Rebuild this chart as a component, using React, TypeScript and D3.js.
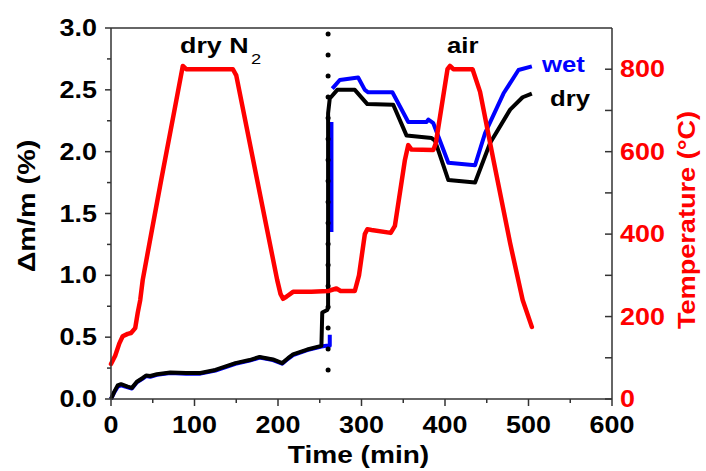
import React from 'react';
import * as d3 from 'd3';

const width = 706;
const height = 471;
const margin = { top: 28, right: 94, bottom: 72, left: 111 };

// temperature programme (red, right axis)
const tempTime = [0, 5, 10, 14, 20, 24, 29, 32, 35, 38, 49, 60, 75, 86, 90, 146, 150, 187, 199, 203, 206, 210, 218, 240, 260, 270, 275, 292, 297, 304, 307, 312, 335, 340, 352, 356, 360, 386, 389, 403, 406, 410, 433, 442, 458, 478, 493, 504];
const tempC = [85, 105, 135, 152, 158, 160, 172, 209, 240, 289, 410, 530, 690, 808, 800, 800, 785, 410, 289, 255, 243, 248, 260, 260, 262, 268, 262, 262, 300, 400, 412, 410, 403, 420, 580, 616, 605, 604, 620, 800, 808, 800, 800, 745, 580, 378, 240, 175];

// dry run (black)
const dryTime = [0, 4, 8, 12, 20, 25, 31, 38, 42, 47, 55, 71, 90, 107, 125, 149, 166, 178, 194, 205, 212, 218, 235, 252, 253, 259, 260, 260, 262, 271, 292, 307, 338, 354, 384, 388, 404, 436, 454, 478, 493, 504];
const dryMass = [0, 0.06, 0.11, 0.12, 0.1, 0.09, 0.14, 0.17, 0.19, 0.186, 0.2, 0.215, 0.21, 0.21, 0.235, 0.29, 0.315, 0.34, 0.32, 0.29, 0.33, 0.36, 0.4, 0.43, 0.7, 0.72, 0.74, 2.31, 2.43, 2.5, 2.5, 2.385, 2.38, 2.13, 2.11, 2.09, 1.77, 1.75, 2.07, 2.34, 2.44, 2.47];

// wet run (blue), NaN = gap in the record
const wetTime = [0, 4, 8, 12, 20, 25, 31, 38, 42, 47, 55, 71, 90, 107, 125, 149, 166, 178, 194, 205, 212, 218, 235, 252, 258, 262, 262, 263, 264, 264, 264, 265, 274, 296, 304, 308, 337, 356, 378, 380, 386, 404, 436, 448, 470, 488, 504];
const wetMass = [0, 0.055, 0.1, 0.11, 0.095, 0.085, 0.135, 0.165, 0.185, 0.18, 0.195, 0.21, 0.205, 0.205, 0.23, 0.285, 0.31, 0.335, 0.315, 0.285, 0.325, 0.355, 0.395, 0.425, 0.43, 0.43, 0.52, NaN, 1.35, 2.24, NaN, 2.51, 2.58, 2.6, 2.5, 2.48, 2.48, 2.24, 2.24, 2.26, 2.23, 1.91, 1.89, 2.15, 2.47, 2.66, 2.69];

const xTicks = [0, 100, 200, 300, 400, 500, 600];
const massTicks = [0, 0.5, 1.0, 1.5, 2.0, 2.5, 3.0];
const tempTicks = [0, 200, 400, 600, 800];
const switchTime = 260;

const font = 'Liberation Sans, Arial, Helvetica, sans-serif';
const sx = 1.17;

const App = () => {
    const x = d3.scaleLinear().domain([0, 600]).range([margin.left, width - margin.right]);
    const y = d3.scaleLinear().domain([0, 3]).range([height - margin.bottom, margin.top]);
    const yT = d3.scaleLinear().domain([0, 900]).range([height - margin.bottom, margin.top]);

    const x0 = x(0), x1 = x(600), y0 = y(0), y1 = y(3);

    const massLine = d3.line<[number, number]>()
        .defined(d => !isNaN(d[1]))
        .x(d => x(d[0]))
        .y(d => y(d[1]));
    const tempLine = d3.line<[number, number]>()
        .x(d => x(d[0]))
        .y(d => yT(d[1]));

    const dry = dryTime.map((t, i) => [t, dryMass[i]] as [number, number]);
    const wet = wetTime.map((t, i) => [t, wetMass[i]] as [number, number]);
    const temp = tempTime.map((t, i) => [t, tempC[i]] as [number, number]);

    const xMinor = d3.range(50, 600, 100);
    const massMinor = d3.range(0.25, 3, 0.5);
    const tempMinor = d3.range(100, 900, 200);

    const label = (tx, ty, text, opts: any = {}) => (
        <text
            transform={`translate(${tx},${ty}) scale(${sx},1)`}
            textAnchor={opts.anchor || 'middle'}
            fill={opts.fill || '#000'}
            fontSize={opts.size || 23}
            fontWeight="bold"
            dy={opts.dy || 0}
        >
            {text}
        </text>
    );

    return (
        <svg width={width} height={height} style={{ position: 'absolute', left: 0, top: 0, background: '#fff' }} fontFamily={font}>
            <rect x={0} y={0} width={width} height={height} fill="#fff" />
            {/* curves */}
            <path d={massLine(wet)} fill="none" stroke="#0000ff" strokeWidth={4} strokeLinejoin="round" />
            <path d={massLine(dry)} fill="none" stroke="#000" strokeWidth={4} strokeLinejoin="round" />
            <path d={tempLine(temp)} fill="none" stroke="#ff0000" strokeWidth={4.5} strokeLinejoin="round" strokeLinecap="round" />
            <line x1={x(switchTime)} x2={x(switchTime)} y1={y1 + 6} y2={y0 - 8} stroke="#000" strokeWidth={5} strokeDasharray="0 21" strokeLinecap="round" />

            {/* frame */}
            <line x1={x0} x2={x1} y1={y1} y2={y1} stroke="#333" strokeWidth={1.5} />
            <line x1={x0} x2={x1} y1={y0} y2={y0} stroke="#333" strokeWidth={1.5} />
            <line x1={x0} x2={x0} y1={y1} y2={y0} stroke="#333" strokeWidth={1.5} />
            <line x1={x1} x2={x1} y1={y1} y2={y0} stroke="#333" strokeWidth={1.5} />

            {/* x axis */}
            {xTicks.map(t => (
                <g key={'x' + t}>
                    <line x1={x(t)} x2={x(t)} y1={y0} y2={y0 + 7} stroke="#333" strokeWidth={1.5} />
                    {label(x(t), y0 + 34, t)}
                </g>
            ))}
            {xMinor.map(t => (
                <line key={'xm' + t} x1={x(t)} x2={x(t)} y1={y0} y2={y0 + 4} stroke="#333" strokeWidth={1.5} />
            ))}
            {label((x0 + x1) / 2 - 3, 463, 'Time (min)', { size: 24 })}

            {/* left axis */}
            {massTicks.map(v => (
                <g key={'m' + v}>
                    <line x1={x0 - 6} x2={x0} y1={y(v)} y2={y(v)} stroke="#333" strokeWidth={1.5} />
                    {label(97, y(v), v.toFixed(1), { anchor: 'end', dy: '0.35em' })}
                </g>
            ))}
            {massMinor.map(v => (
                <line key={'mm' + v} x1={x0 - 4} x2={x0} y1={y(v)} y2={y(v)} stroke="#333" strokeWidth={1.5} />
            ))}
            <text transform={`translate(35,206) rotate(-90) scale(1.2,1)`} textAnchor="middle" fontSize={24} fontWeight="bold" fill="#000">Δm/m (%)</text>

            {/* right axis */}
            {tempTicks.map(v => (
                <g key={'t' + v}>
                    <line x1={x1 - 7} x2={x1} y1={yT(v)} y2={yT(v)} stroke="#333" strokeWidth={1.5} />
                    {label(620, yT(v), v, { anchor: 'start', dy: '0.35em', fill: '#ff0000' })}
                </g>
            ))}
            {tempMinor.map(v => (
                <line key={'tm' + v} x1={x1 - 7} x2={x1} y1={yT(v)} y2={yT(v)} stroke="#333" strokeWidth={1.5} />
            ))}
            <text transform={`translate(695,220) rotate(-90) scale(1.13,1)`} textAnchor="middle" fontSize={24} fontWeight="bold" fill="#ff0000">Temperature (°C)</text>

            {/* annotations */}
            <text transform={`translate(180,53) scale(1.22,1)`} fontSize={22} fontWeight="bold" fill="#000">
                dry N<tspan fontWeight="normal" fontSize={15} dx={2} dy={11}>2</tspan>
            </text>
            {label(447, 53, 'air', { anchor: 'start', size: 22 })}
            {label(542, 72, 'wet', { anchor: 'start', size: 22, fill: '#0000ff' })}
            {label(550, 106, 'dry', { anchor: 'start', size: 22 })}
        </svg>
    );
};

export default App;
